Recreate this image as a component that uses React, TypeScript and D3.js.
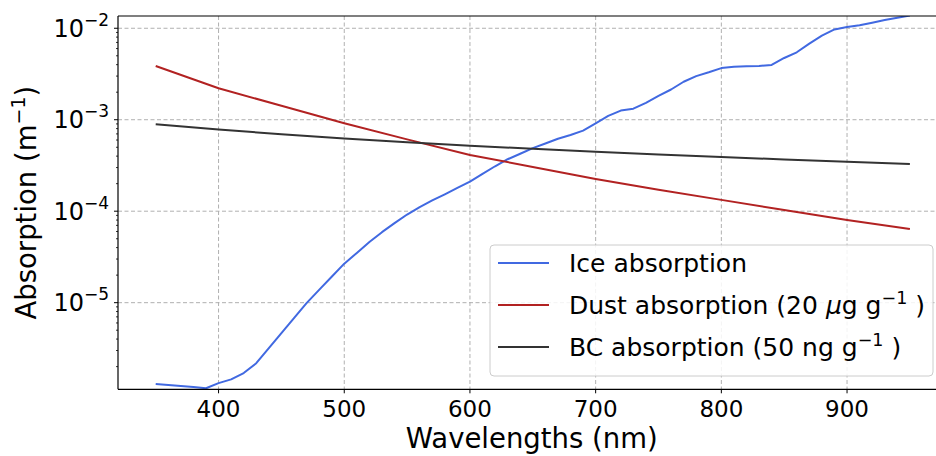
import React from "react";
import * as d3 from "d3";

const iceWavelengths = [350,360,370,380,390,400,410,420,430,440,450,460,470,480,490,500,510,520,530,540,550,560,570,580,590,600,610,620,630,640,650,660,670,680,690,700,710,720,730,740,750,760,770,780,790,800,810,820,830,840,850,860,870,880,890,900,910,920,930,940,950];
const iceValues = [1.29e-6,1.26e-6,1.23e-6,1.2e-6,1.16e-6,1.32e-6,1.45e-6,1.7e-6,2.18e-6,3.18e-6,4.65e-6,6.78e-6,9.9e-6,1.38e-5,1.92e-5,2.67e-5,3.5e-5,4.6e-5,5.9e-5,7.4e-5,9.2e-5,1.11e-4,1.31e-4,1.53e-4,1.8e-4,2.11e-4,2.56e-4,3.1e-4,3.7e-4,4.25e-4,4.89e-4,5.5e-4,6.2e-4,6.8e-4,7.6e-4,9.1e-4,1.1e-3,1.26e-3,1.32e-3,1.53e-3,1.82e-3,2.14e-3,2.6e-3,3.0e-3,3.3e-3,3.67e-3,3.8e-3,3.84e-3,3.87e-3,3.97e-3,4.73e-3,5.46e-3,6.8e-3,8.3e-3,9.7e-3,1.03e-2,1.08e-2,1.15e-2,1.23e-2,1.3e-2,1.38e-2];

const impurityWavelengths = [350,400,450,500,550,600,650,700,750,800,850,900,950];
const dustValues = [3.87e-3,2.21e-3,1.42e-3,9.16e-4,6.1e-4,4.12e-4,3.05e-4,2.25e-4,1.72e-4,1.33e-4,1.03e-4,8.03e-5,6.4e-5];
const bcValues = [8.93e-4,7.81e-4,6.95e-4,6.25e-4,5.68e-4,5.21e-4,4.81e-4,4.47e-4,4.17e-4,3.91e-4,3.68e-4,3.47e-4,3.29e-4];

const xTicks = [400,500,600,700,800,900];
const yTickExponents = [-2,-3,-4,-5];

const FONT = "'DejaVu Sans', sans-serif";

export default function App() {
  const W = 936, H = 456;
  const left = 118, top = 16, bottom = 389.3;
  const x = d3.scaleLinear().domain([320, 980]).range([left, 947.6]);
  const y = d3.scaleLog().domain([Math.pow(10, -5.947), Math.pow(10, -1.866)]).range([bottom, top]);
  const right = x(980);

  const line = d3.line<[number, number]>().x(d => x(d[0])).y(d => y(d[1]));
  const icePts = iceWavelengths.map((w, i) => [w, iceValues[i]] as [number, number]);
  const dustPts = impurityWavelengths.map((w, i) => [w, dustValues[i]] as [number, number]);
  const bcPts = impurityWavelengths.map((w, i) => [w, bcValues[i]] as [number, number]);

  const [lo, hi] = y.domain();
  const minor: number[] = [];
  for (let e = -7; e <= -1; e++) {
    for (let m = 2; m <= 9; m++) {
      const v = m * Math.pow(10, e);
      if (v >= lo && v <= hi) minor.push(v);
    }
  }

  const series = [
    { label: "ice", color: "#4169E1" },
    { label: "dust", color: "#B22222" },
    { label: "bc", color: "#333333" },
  ];

  const legX = 490, legY = 245, legW = 443, legH = 131;
  const rowY = [263, 305, 347];

  return (
    <svg width={W} height={H} style={{ position: "absolute", left: 0, top: 0, background: "#fff" }} fontFamily={FONT}>
      <defs>
        <clipPath id="plotclip">
          <rect x={left} y={top} width={right - left} height={bottom - top} />
        </clipPath>
      </defs>
      <rect x={0} y={0} width={W} height={H} fill="#fff" />
      {/* grid */}
      <g stroke="#b0b0b0" strokeWidth={1} strokeDasharray="4,2.5" fill="none">
        {xTicks.map(t => (
          <line key={"gx" + t} x1={x(t)} x2={x(t)} y1={top} y2={bottom} />
        ))}
        {yTickExponents.map(e => (
          <line key={"gy" + e} x1={left} x2={right} y1={y(Math.pow(10, e))} y2={y(Math.pow(10, e))} />
        ))}
      </g>
      {/* lines */}
      <g clipPath="url(#plotclip)" fill="none" strokeWidth={2} strokeLinejoin="round" strokeLinecap="butt">
        <path d={line(icePts) || ""} stroke={series[0].color} />
        <path d={line(dustPts) || ""} stroke={series[1].color} />
        <path d={line(bcPts) || ""} stroke={series[2].color} />
      </g>
      {/* spines */}
      <g stroke="#000" strokeWidth={1.2}>
        <line x1={left} x2={left} y1={top} y2={bottom} />
        <line x1={left} x2={right} y1={bottom} y2={bottom} />
        <line x1={left} x2={right} y1={top} y2={top} />
        <line x1={right} x2={right} y1={top} y2={bottom} />
      </g>
      {/* x ticks */}
      <g>
        {xTicks.map(t => (
          <g key={"xt" + t}>
            <line x1={x(t)} x2={x(t)} y1={bottom} y2={bottom + 4} stroke="#000" strokeWidth={1} />
            <text x={x(t)} y={417} textAnchor="middle" fontSize={23} fill="#000">{t}</text>
          </g>
        ))}
      </g>
      {/* y ticks */}
      <g>
        {minor.map((v, i) => (
          <line key={"ym" + i} x1={left - 2} x2={left} y1={y(v)} y2={y(v)} stroke="#000" strokeWidth={0.8} />
        ))}
        {yTickExponents.map(e => {
          const yy = y(Math.pow(10, e));
          return (
            <g key={"yt" + e}>
              <line x1={left - 4} x2={left} y1={yy} y2={yy} stroke="#000" strokeWidth={1} />
              <text x={left - 9} y={yy + 8.5} textAnchor="end" fontSize={24} fill="#000">
                10<tspan fontSize={17} dy={-11}>{"\u2212" + Math.abs(e)}</tspan>
              </text>
            </g>
          );
        })}
      </g>
      {/* axis labels */}
      <text x={(left + right) / 2 - 1} y={448} textAnchor="middle" fontSize={27.5} fill="#000">Wavelengths (nm)</text>
      <text transform={`translate(36, ${(top + bottom) / 2}) rotate(-90)`} textAnchor="middle" fontSize={27.5} fill="#000">
        Absorption (m<tspan fontSize={19} dy={-11}>{"\u22121"}</tspan><tspan dy={11}>)</tspan>
      </text>
      {/* legend */}
      <g>
        <rect x={legX} y={legY} width={legW} height={legH} rx={4} ry={4} fill="#fff" fillOpacity={0.85} stroke="#cccccc" strokeWidth={1} />
        {series.map((s, i) => (
          <line key={"lh" + i} x1={498} x2={549} y1={rowY[i]} y2={rowY[i]} stroke={s.color} strokeWidth={2} />
        ))}
        <text x={569} y={rowY[0] + 9} fontSize={25} fill="#000">Ice absorption</text>
        <text x={569} y={rowY[1] + 9} fontSize={25} fill="#000">
          Dust absorption (20 <tspan fontStyle="italic">μ</tspan>g g<tspan fontSize={17.5} dy={-10}>{"\u22121"}</tspan><tspan dy={10}>{" )"}</tspan>
        </text>
        <text x={569} y={rowY[2] + 9} fontSize={25} fill="#000">
          BC absorption (50 ng g<tspan fontSize={17.5} dy={-10}>{"\u22121"}</tspan><tspan dy={10}>{" )"}</tspan>
        </text>
      </g>
    </svg>
  );
}
